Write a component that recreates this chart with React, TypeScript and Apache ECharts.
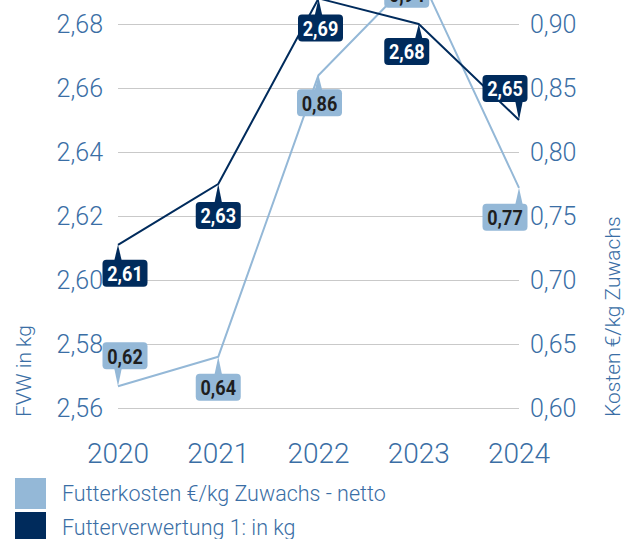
import React, { useEffect, useRef } from "react";
import * as echarts from "echarts";

const years = ["2020", "2021", "2022", "2023", "2024"];
const fvw = [2.611, 2.63, 2.688, 2.68, 2.65];
const kosten = [0.617, 0.64, 0.86, 0.94, 0.772];
const leftTicks = { min: 2.56, max: 2.7, interval: 0.02 };
const rightTicks = { min: 0.6, max: 0.95, interval: 0.05 };

const seriesNames = ["Futterkosten €/kg Zuwachs - netto", "Futterverwertung 1: in kg"];
const axisNames = ["FVW in kg", "Kosten €/kg Zuwachs"];

// label placement styles (not data)
const fvwLabelStyle = [
  { dx: 7, pos: "below", gap: 15 },
  { dx: 0, pos: "below", gap: 18 },
  { dx: 2, pos: "below", gap: 16 },
  { dx: -12, pos: "below", gap: 14 },
  { dx: -14, pos: "above", gap: 18 },
];
const kostenLabelStyle = [
  { dx: 7, pos: "above", gap: 17 },
  { dx: 0, pos: "below", gap: 17 },
  { dx: 1, pos: "below", gap: 14 },
  { dx: -12, pos: "below", gap: 8 },
  { dx: -14, pos: "below", gap: 16 },
];

const DARK = "#002b5c";
const LIGHT = "#94b8d7";
const BLUE = "#3a6ea5";
const FONT = "Roboto, 'Noto Sans', sans-serif";
const LABEL_FONT = "Roboto, 'Liberation Sans', sans-serif";

const fmt = (v: number) => v.toFixed(2).replace(".", ",");

function labelSeries(values: number[], yAxisIndex: number, styles: any[], bg: string, fg: string) {
  return {
    type: "custom",
    yAxisIndex,
    z: 10,
    silent: true,
    data: values.map((v, i) => [i, v]),
    renderItem: (params: any, api: any) => {
      const i = params.dataIndex;
      const p = api.coord([api.value(0), api.value(1)]);
      const st = styles[i];
      const w = 45;
      const h = 27;
      const cx = p[0] + st.dx;
      const below = st.pos === "below";
      const top = below ? p[1] + st.gap : p[1] - st.gap - h;
      const edgeY = below ? top + 2 : top + h - 2;
      const bx = Math.min(Math.max(p[0], cx - w / 2 + 8), cx + w / 2 - 8);
      return {
        type: "group",
        children: [
          {
            type: "polygon",
            shape: { points: [[p[0], p[1]], [bx - 4, edgeY], [bx + 4, edgeY]] },
            style: { fill: bg },
          },
          {
            type: "rect",
            shape: { x: cx - w / 2, y: top, width: w, height: h, r: 4 },
            style: { fill: bg },
          },
          {
            type: "text",
            x: cx,
            y: top + h / 2 + 1,
            scaleX: 0.86,
            style: {
              text: fmt(api.value(1)),
              x: 0,
              y: 0,
              fill: fg,
              fontSize: 21,
              fontWeight: "bold",
              fontFamily: LABEL_FONT,
              align: "center",
              verticalAlign: "middle",
            },
          },
        ],
      };
    },
  };
}

export default function App() {
  const ref = useRef<HTMLDivElement>(null);
  useEffect(() => {
    if (!ref.current) return;
    const chart = echarts.init(ref.current, null, { renderer: "svg" });
    const axisLabelBase = { color: BLUE, fontSize: 25, fontWeight: 300, fontFamily: FONT };
    chart.setOption({
      animation: false,
      backgroundColor: "#ffffff",
      grid: { left: 118, right: 119, top: 20, bottom: 152, containLabel: false },
      legend: {
        data: seriesNames,
        orient: "vertical",
        left: 15,
        top: 538,
        padding: 0,
        icon: "rect",
        itemWidth: 31,
        itemHeight: 31,
        itemGap: 3,
        textStyle: { color: BLUE, fontSize: 21.5, fontWeight: 300, fontFamily: FONT, padding: [0, 0, 0, 11] },
      },
      xAxis: {
        type: "category",
        data: years,
        boundaryGap: false,
        axisLine: { show: false },
        axisTick: { show: false },
        splitLine: { show: false },
        axisLabel: { ...axisLabelBase, fontSize: 28, margin: 31 },
      },
      yAxis: [
        {
          type: "value",
          ...leftTicks,
          position: "left",
          axisLine: { show: false },
          axisTick: { show: false },
          splitLine: { show: true, lineStyle: { color: "#c9c9c9", width: 1 } },
          axisLabel: { ...axisLabelBase, margin: 15, formatter: (v: number) => fmt(v) },
        },
        {
          type: "value",
          ...rightTicks,
          position: "right",
          axisLine: { show: false },
          axisTick: { show: false },
          splitLine: { show: false },
          axisLabel: { ...axisLabelBase, margin: 11, formatter: (v: number) => fmt(v) },
        },
      ],
      graphic: [
        {
          type: "text",
          x: 24,
          y: 477,
          rotation: Math.PI / 2,
          style: { text: axisNames[0], fill: BLUE, fontSize: 21, fontWeight: 300, fontFamily: FONT, align: "left", verticalAlign: "middle" },
        },
        {
          type: "text",
          x: 613,
          y: 477,
          rotation: Math.PI / 2,
          style: { text: axisNames[1], fill: BLUE, fontSize: 21, fontWeight: 300, fontFamily: FONT, align: "left", verticalAlign: "middle" },
        },
      ],
      series: [
        {
          name: seriesNames[0],
          type: "line",
          yAxisIndex: 1,
          data: kosten,
          showSymbol: false,
          symbol: "none",
          color: LIGHT,
          lineStyle: { color: LIGHT, width: 2 },
          itemStyle: { color: LIGHT },
          z: 2,
        },
        {
          name: seriesNames[1],
          type: "line",
          yAxisIndex: 0,
          data: fvw,
          showSymbol: false,
          symbol: "none",
          color: DARK,
          lineStyle: { color: DARK, width: 2 },
          itemStyle: { color: DARK },
          z: 3,
        },
        labelSeries(kosten, 1, kostenLabelStyle, LIGHT, "#1e1e1e"),
        labelSeries(fvw, 0, fvwLabelStyle, DARK, "#ffffff"),
      ],
    });
    return () => chart.dispose();
  }, []);
  return <div ref={ref} style={{ position: "fixed", left: 0, top: -60, width: 638, height: 620 }} />;
}
